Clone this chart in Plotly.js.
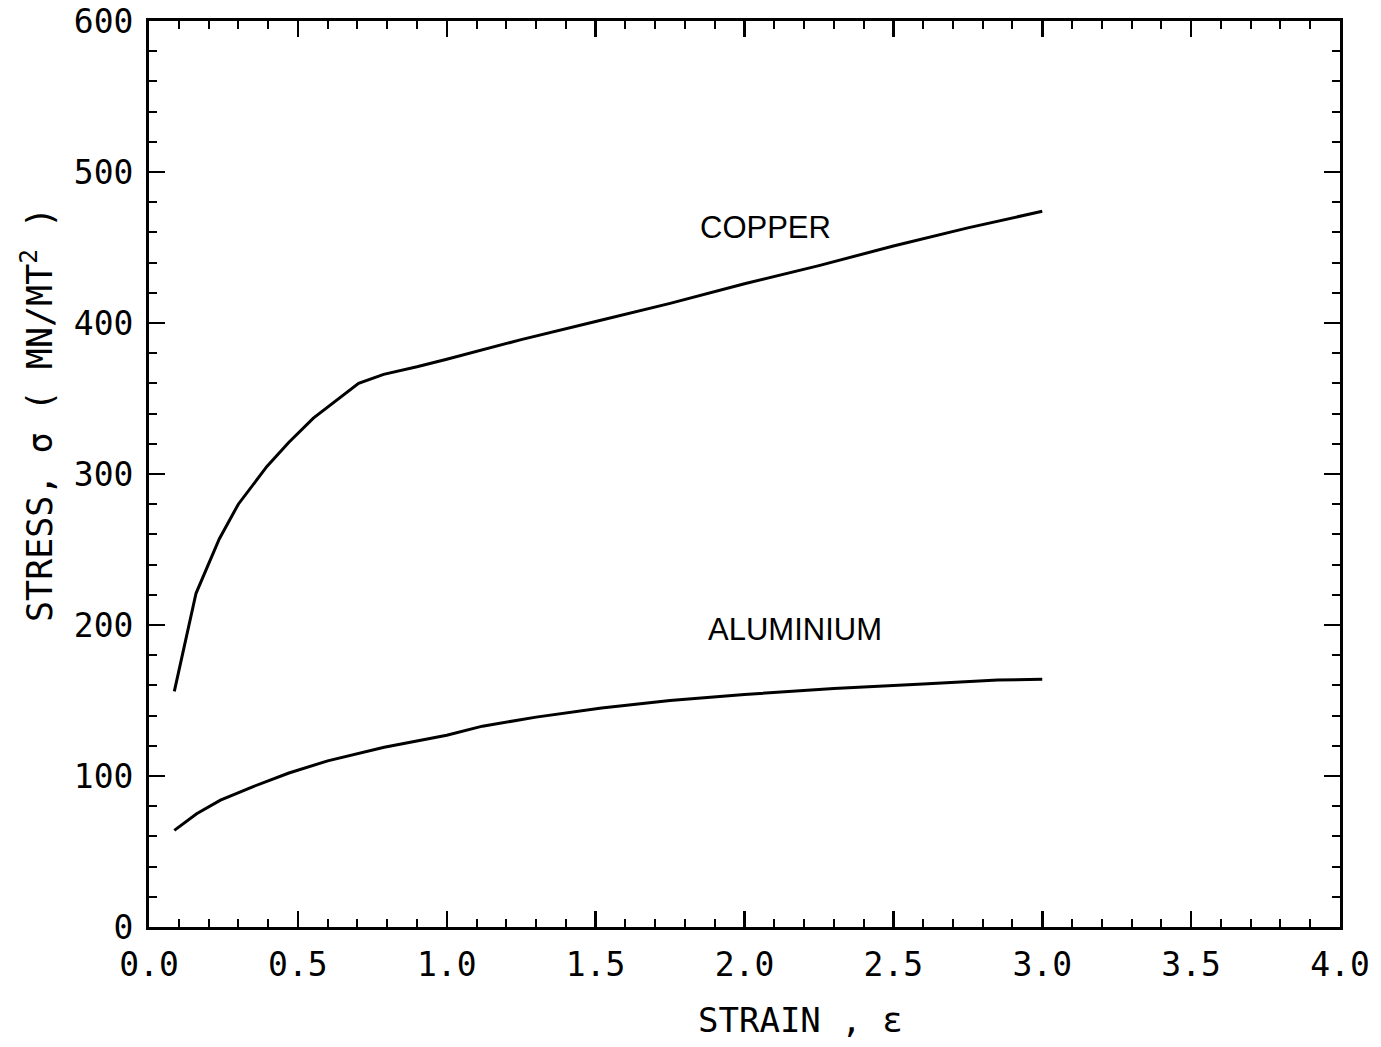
<!DOCTYPE html>
<html>
<head>
<meta charset="utf-8">
<script src="https://cdn.plot.ly/plotly-3.0.1.min.js"></script>
<style>html,body{margin:0;padding:0;background:#fff;}#chart{width:1381px;height:1047px;}</style>
</head>
<body>
<div id="chart"></div>
<script>
// Copper stress-strain curve
const copperStrain = [0.085, 0.158, 0.236, 0.30, 0.396, 0.47, 0.552, 0.704, 0.788, 0.90, 1.00, 1.25, 1.50, 1.75, 2.00, 2.25, 2.50, 2.75, 3.00];
const copperStress = [156, 221, 257, 280, 305, 321, 337, 360, 366, 371, 376, 389, 401, 413, 426, 438, 451, 463, 474];
// Aluminium stress-strain curve
const aluStrain = [0.085, 0.16, 0.24, 0.35, 0.47, 0.60, 0.79, 1.00, 1.12, 1.30, 1.52, 1.75, 2.00, 2.30, 2.60, 2.85, 3.00];
const aluStress = [64, 75, 84, 93, 102, 110, 119, 127, 133, 139, 145, 150, 154, 158, 161, 163.5, 164];
// Labels
const seriesNames = ["COPPER", "ALUMINIUM"];
const labelStrain = [2.07, 2.17];
const labelStress = [463, 197];
const xTitle = "STRAIN , ε";
const yTitle = "STRESS, σ ( MN/MT<sup>2</sup> )";

const monoFont = {family: "DejaVu Sans Mono, monospace", size: 33, color: "#000"};

const traces = [
  {x: copperStrain, y: copperStress, name: seriesNames[0], mode: "lines", line: {color: "#000", width: 3}},
  {x: aluStrain, y: aluStress, name: seriesNames[1], mode: "lines", line: {color: "#000", width: 3}}
];

const axisCommon = {
  showgrid: false, zeroline: false, showline: true, linecolor: "#000", linewidth: 3,
  mirror: "ticks", ticks: "inside", ticklen: 16, tickwidth: 2.5, tickcolor: "#000",
  tickfont: monoFont
};

const layout = {
  width: 1381, height: 1047,
  paper_bgcolor: "#fff", plot_bgcolor: "#fff",
  showlegend: false,
  margin: {l: 149, r: 41, t: 21, b: 120},
  xaxis: Object.assign({}, axisCommon, {
    range: [0, 4], dtick: 0.5, tick0: 0, tickformat: ".1f", ticklabelstandoff: 6,
    minor: {dtick: 0.1, ticks: "inside", ticklen: 8, tickwidth: 2, tickcolor: "#000", showgrid: false}
  }),
  yaxis: Object.assign({}, axisCommon, {
    range: [0, 600], dtick: 100, tick0: 0, ticklabelstandoff: 6,
    minor: {dtick: 20, ticks: "inside", ticklen: 8, tickwidth: 2, tickcolor: "#000", showgrid: false}
  }),
  annotations: [
    {x: labelStrain[0], y: labelStress[0], xref: "x", yref: "y", text: seriesNames[0], showarrow: false,
     xanchor: "center", yanchor: "middle",
     font: {family: "Liberation Sans, Arial, sans-serif", size: 31, color: "#000"}},
    {x: labelStrain[1], y: labelStress[1], xref: "x", yref: "y", text: seriesNames[1], showarrow: false,
     xanchor: "center", yanchor: "middle",
     font: {family: "Liberation Sans, Arial, sans-serif", size: 31, color: "#000"}},
    {x: 0, y: 0, xref: "paper", yref: "paper", text: xTitle, showarrow: false,
     xanchor: "center", yanchor: "middle",
     font: {family: "DejaVu Sans Mono, monospace", size: 34, color: "#000"}},
    {x: 0, y: 0, xref: "paper", yref: "paper", text: yTitle, showarrow: false, textangle: -90,
     xanchor: "center", yanchor: "middle",
     font: {family: "DejaVu Sans Mono, monospace", size: 35, color: "#000"}}
  ]
};

// Place the titles (pixel centres converted to paper coordinates)
const plotW = 1381 - 149 - 41, plotH = 1047 - 21 - 120;
layout.annotations[2].x = (800 - 149) / plotW;
layout.annotations[2].y = (1047 - 120 - 1020) / plotH;
layout.annotations[3].x = (37 - 149) / plotW;
layout.annotations[3].y = (1047 - 120 - 415) / plotH;

Plotly.newPlot("chart", traces, layout, {staticPlot: true, displayModeBar: false});
</script>
</body>
</html>
